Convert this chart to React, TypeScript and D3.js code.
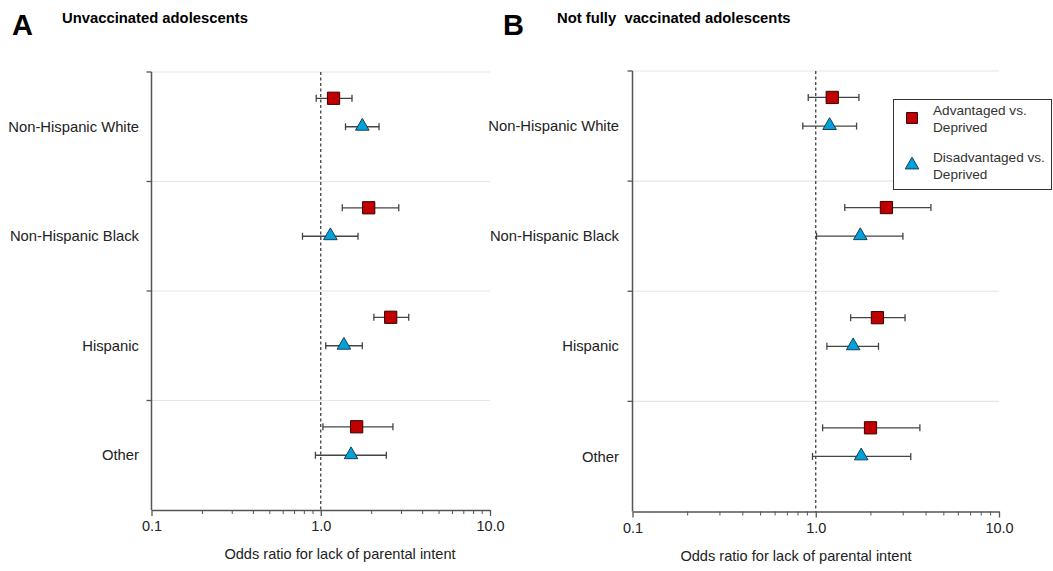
import React, { useEffect, useRef } from "react";
import * as d3 from "d3";

// categories (rows, top to bottom)
const categories = ["Non-Hispanic White", "Non-Hispanic Black", "Hispanic", "Other"];

// Panel A: unvaccinated adolescents
const unvaxAdvOR = [1.19, 1.92, 2.59, 1.63];
const unvaxAdvLo = [0.94, 1.34, 2.06, 1.03];
const unvaxAdvHi = [1.53, 2.89, 3.31, 2.67];
const unvaxDisOR = [1.76, 1.14, 1.37, 1.51];
const unvaxDisLo = [1.4, 0.78, 1.07, 0.93];
const unvaxDisHi = [2.21, 1.66, 1.76, 2.44];

// Panel B: not fully vaccinated adolescents
const partAdvOR = [1.23, 2.43, 2.17, 1.99];
const partAdvLo = [0.91, 1.44, 1.55, 1.09];
const partAdvHi = [1.72, 4.25, 3.07, 3.7];
const partDisOR = [1.19, 1.75, 1.6, 1.77];
const partDisLo = [0.85, 1.01, 1.15, 0.96];
const partDisHi = [1.67, 2.99, 2.2, 3.3];

const majorTicks = [0.1, 1, 10];
const tickLabels = ["0.1", "1.0", "10.0"];
const minorTicks = [0.2, 0.3, 0.4, 0.5, 0.6, 0.7, 0.8, 0.9, 2, 3, 4, 5, 6, 7, 8, 9];

const seriesNames = ["Advantaged vs.|Deprived", "Disadvantaged vs.|Deprived"];

const FONT = "Arial, 'Liberation Sans', sans-serif";
const RED = "#c00000";
const BLUE = "#00a2db";

interface Series {
  or: number[];
  lo: number[];
  hi: number[];
}

interface PanelCfg {
  letter: string;
  title: string;
  left: number;
  right: number;
  top: number;
  bottom: number;
  letterX: number;
  titleX: number;
  labelRight: number;
  axisTitleX: number;
  adv: Series;
  dis: Series;
  legend: boolean;
}

const panels: PanelCfg[] = [
  {
    letter: "A",
    title: "Unvaccinated adolescents",
    left: 151.5,
    right: 490,
    top: 72,
    bottom: 510,
    letterX: 12,
    titleX: 62,
    labelRight: 139,
    axisTitleX: 340,
    adv: { or: unvaxAdvOR, lo: unvaxAdvLo, hi: unvaxAdvHi },
    dis: { or: unvaxDisOR, lo: unvaxDisLo, hi: unvaxDisHi },
    legend: false,
  },
  {
    letter: "B",
    title: "Not fully  vaccinated adolescents",
    left: 632.5,
    right: 999,
    top: 71,
    bottom: 511.5,
    letterX: 503,
    titleX: 557,
    labelRight: 619,
    axisTitleX: 796,
    adv: { or: partAdvOR, lo: partAdvLo, hi: partAdvHi },
    dis: { or: partDisOR, lo: partDisLo, hi: partDisHi },
    legend: true,
  },
];

const App: React.FC = () => {
  const ref = useRef<SVGSVGElement>(null);

  useEffect(() => {
    const svg = d3.select(ref.current);
    svg.selectAll("*").remove();

    panels.forEach((p) => {
      const g = svg.append("g");
      const x = d3.scaleLog().domain([0.1, 10]).range([p.left, p.right]);
      const y = d3.scaleBand().domain(categories).range([p.top, p.bottom]).paddingInner(0);
      const bw = y.bandwidth();

      // panel letter and title
      g.append("text")
        .attr("x", p.letterX)
        .attr("y", 35)
        .attr("font-family", FONT)
        .attr("font-weight", "bold")
        .attr("font-size", 29)
        .attr("fill", "#000")
        .text(p.letter);
      g.append("text")
        .attr("x", p.titleX)
        .attr("y", 23)
        .attr("font-family", FONT)
        .attr("font-weight", "bold")
        .attr("font-size", 14.8)
        .attr("fill", "#000")
        .style("white-space", "pre")
        .text(p.title);

      // horizontal grid lines at band edges
      const edges = categories.map((c) => y(c) as number);
      g.selectAll(".grid")
        .data(edges)
        .enter()
        .append("line")
        .attr("x1", p.left)
        .attr("x2", p.right)
        .attr("y1", (d) => d)
        .attr("y2", (d) => d)
        .attr("stroke", "#e6e6e6")
        .attr("stroke-width", 1.2);

      // y axis
      g.append("line")
        .attr("x1", p.left)
        .attr("x2", p.left)
        .attr("y1", p.top)
        .attr("y2", p.bottom)
        .attr("stroke", "#555")
        .attr("stroke-width", 1.5);
      g.selectAll(".ytick")
        .data(edges)
        .enter()
        .append("line")
        .attr("x1", p.left - 5)
        .attr("x2", p.left)
        .attr("y1", (d) => d)
        .attr("y2", (d) => d)
        .attr("stroke", "#555")
        .attr("stroke-width", 1.3);

      // category labels
      g.selectAll(".ylab")
        .data(categories)
        .enter()
        .append("text")
        .attr("x", p.labelRight)
        .attr("y", (d) => (y(d) as number) + bw / 2)
        .attr("dy", "0.35em")
        .attr("text-anchor", "end")
        .attr("font-family", FONT)
        .attr("font-size", 14.8)
        .attr("fill", "#222")
        .text((d) => d);

      // x axis
      const axis = g
        .append("g")
        .attr("transform", `translate(0,${p.bottom})`)
        .call(
          d3
            .axisBottom(x)
            .tickValues(majorTicks)
            .tickFormat((_, i) => tickLabels[i])
            .tickSize(6)
            .tickSizeOuter(0)
        );
      axis.select(".domain").attr("stroke", "#555").attr("stroke-width", 1.5);
      axis.selectAll(".tick line").attr("stroke", "#555").attr("stroke-width", 1.3);
      axis
        .selectAll(".tick text")
        .attr("font-family", FONT)
        .attr("font-size", 14.5)
        .attr("fill", "#222")
        .attr("y", 11);
      g.selectAll(".minor")
        .data(minorTicks)
        .enter()
        .append("line")
        .attr("x1", (d) => x(d))
        .attr("x2", (d) => x(d))
        .attr("y1", p.bottom)
        .attr("y2", p.bottom + 4)
        .attr("stroke", "#555")
        .attr("stroke-width", 1);

      g.append("text")
        .attr("x", p.axisTitleX)
        .attr("y", p.bottom + 49)
        .attr("text-anchor", "middle")
        .attr("font-family", FONT)
        .attr("font-size", 14.6)
        .attr("fill", "#222")
        .text("Odds ratio for lack of parental intent");

      // reference line at OR = 1
      g.append("line")
        .attr("x1", x(1))
        .attr("x2", x(1))
        .attr("y1", p.top)
        .attr("y2", p.bottom)
        .attr("stroke", "#333")
        .attr("stroke-width", 1.2)
        .attr("stroke-dasharray", "3,2.5");

      const drawSeries = (s: Series, offset: number, isSquare: boolean) => {
        const rows = categories.map((c, i) => ({
          cy: (y(c) as number) + bw * offset,
          or: s.or[i],
          lo: s.lo[i],
          hi: s.hi[i],
        }));
        const eg = g.append("g");
        rows.forEach((r) => {
          eg.append("line")
            .attr("x1", x(r.lo))
            .attr("x2", x(r.hi))
            .attr("y1", r.cy)
            .attr("y2", r.cy)
            .attr("stroke", "#444")
            .attr("stroke-width", 1.3);
          [r.lo, r.hi].forEach((v) => {
            eg.append("line")
              .attr("x1", x(v))
              .attr("x2", x(v))
              .attr("y1", r.cy - 3.5)
              .attr("y2", r.cy + 3.5)
              .attr("stroke", "#444")
              .attr("stroke-width", 1.3);
          });
        });
        const sym = d3
          .symbol()
          .type(isSquare ? d3.symbolSquare : d3.symbolTriangle)
          .size(isSquare ? 150 : 80);
        eg.selectAll(".mk")
          .data(rows)
          .enter()
          .append("path")
          .attr("d", sym as any)
          .attr("transform", (r) => `translate(${x(r.or)},${r.cy + (isSquare ? 0 : -0.5)})`)
          .attr("fill", isSquare ? RED : BLUE)
          .attr("stroke", isSquare ? "#3a0000" : "#1d3b52")
          .attr("stroke-width", 1);
      };
      drawSeries(p.dis, 0.5, false);
      drawSeries(p.adv, 0.24, true);

      if (p.legend) {
        const lg = g.append("g");
        lg.append("rect")
          .attr("x", 893.5)
          .attr("y", 99.5)
          .attr("width", 158)
          .attr("height", 90)
          .attr("fill", "#fff")
          .attr("stroke", "#333")
          .attr("stroke-width", 1);
        seriesNames.forEach((name, i) => {
          const cy = 118 + i * 47;
          const sym = d3
            .symbol()
            .type(i === 0 ? d3.symbolSquare : d3.symbolTriangle)
            .size(i === 0 ? 120 : 80);
          lg.append("path")
            .attr("d", sym() as string)
            .attr("transform", `translate(912,${cy})`)
            .attr("fill", i === 0 ? RED : BLUE)
            .attr("stroke", i === 0 ? "#3a0000" : "#1d3b52")
            .attr("stroke-width", 1);
          name.split("|").forEach((line, j) => {
            lg.append("text")
              .attr("x", 933)
              .attr("y", cy - 3 + j * 17)
              .attr("font-family", FONT)
              .attr("font-size", 13.6)
              .attr("fill", "#333")
              .text(line);
          });
        });
      }
    });
  }, []);

  return (
    <svg
      ref={ref}
      width={1053}
      height={571}
      style={{ position: "absolute", left: 0, top: 0, background: "#fff" }}
    />
  );
};

export default App;
